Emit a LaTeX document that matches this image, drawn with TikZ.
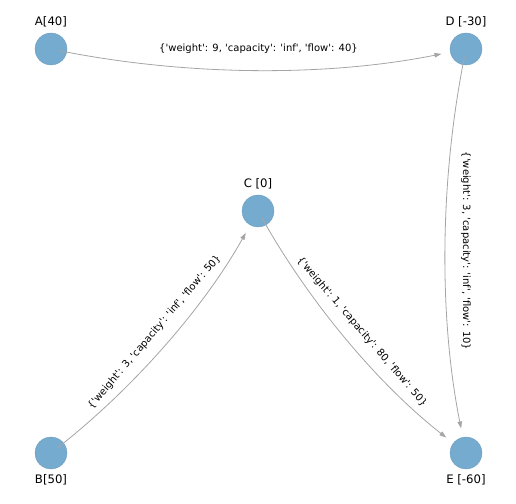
\documentclass[tikz,border=0pt]{standalone}
\usepackage{fontspec}
\newfontfamily\dvs{DejaVu Sans}
\usetikzlibrary{arrows.meta}
\definecolor{nodeblue}{RGB}{118,171,208}
\definecolor{edgegray}{RGB}{165,165,165}
\begin{document}
\begin{tikzpicture}[x=1pt,y=1pt,
  vertex/.style={circle,fill=nodeblue,draw=nodeblue!90!black,line width=0.3pt,minimum size=32pt,inner sep=0pt},
  vlabel/.style={font=\dvs\fontsize{11.7}{14}\selectfont,inner sep=0pt},
  elabel/.style={font=\dvs\fontsize{10}{12}\selectfont,inner sep=1pt},
  flow/.style={draw=edgegray,line width=0.8pt,-{Triangle[length=7pt,width=4.5pt]},
    shorten <=8pt,shorten >=25pt,bend right=11.31,looseness=0.868}]
\useasboundingbox (0,0) rectangle (516,503);
\node[vertex] (A) at (51,454) {};
\node[vertex] (D) at (466,454) {};
\node[vertex] (C) at (258,292) {};
\node[vertex] (B) at (51,50) {};
\node[vertex] (E) at (466,50) {};
\node[vlabel] (Al) at (51,481) {A[40]};
\node[vlabel] (Dl) at (466,481) {D [-30]};
\node[vlabel] (Cl) at (258,319) {C [0]};
\node[vlabel] (Bl) at (51,23) {B[50]};
\node[vlabel] (El) at (466,23) {E [-60]};
\draw[flow] (A.center) to (D.center);
\draw[flow] (D.center) to (E.center);
\draw[flow] (B.center) to (C.center);
\draw[flow] (C.center) to (E.center);
\node[elabel] (lAD) at (258.5,454) {\{'weight': 9, 'capacity': 'inf', 'flow': 40\}};
\node[elabel,rotate=-90] (lDE) at (466,252) {\{'weight': 3, 'capacity': 'inf', 'flow': 10\}};
\node[elabel,rotate=49.46] (lBC) at (154.5,171) {\{'weight': 3, 'capacity': 'inf', 'flow': 50\}};
\node[elabel,rotate=-49.3] (lCE) at (362,171) {\{'weight': 1, 'capacity': 80, 'flow': 50\}};
\end{tikzpicture}
\end{document}
